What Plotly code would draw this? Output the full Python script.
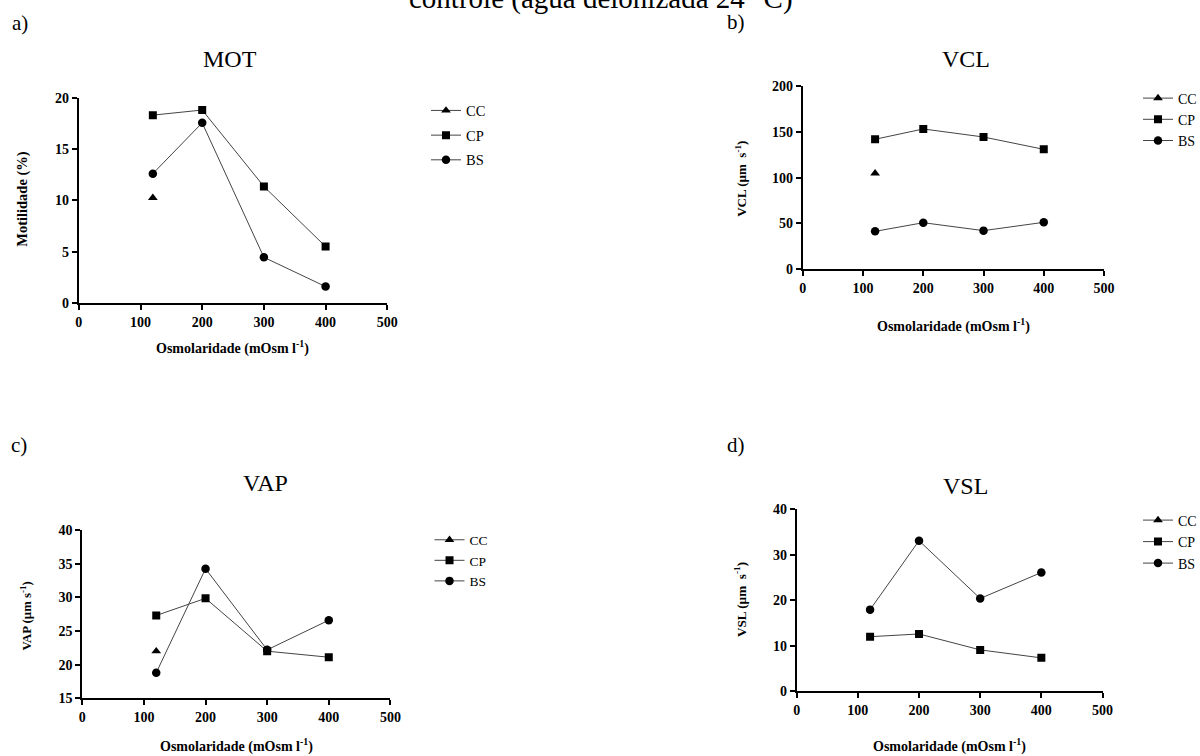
import plotly.graph_objects as go

# ---------------- data ----------------
osm = [120, 200, 300, 400]
cc_x = [120]
series_names = ["CC", "CP", "BS"]

mot_cc = [10.25]
mot_cp = [18.3, 18.8, 11.35, 5.5]
mot_bs = [12.6, 17.55, 4.45, 1.6]

vcl_cc = [104.7]
vcl_cp = [142.0, 153.3, 144.5, 131.0]
vcl_bs = [41.2, 50.7, 42.0, 51.1]

vap_cc = [22.0]
vap_cp = [27.3, 29.85, 22.0, 21.1]
vap_bs = [18.8, 34.25, 22.2, 26.6]

vsl_cc = [None]
vsl_cp = [12.0, 12.6, 9.1, 7.35]
vsl_bs = [17.95, 33.1, 20.4, 26.1]

panel_titles = ["MOT", "VCL", "VAP", "VSL"]
panel_letters = ["a)", "b)", "c)", "d)"]
y_titles = ["Motilidade (%)", "VCL (µm  s<sup>-1</sup>)",
            "VAP (µm s<sup>-1</sup>)", "VSL (µm  s<sup>-1</sup>)"]
x_title = "Osmolaridade (mOsm l<sup>-1</sup>)"
y_ranges = [[0, 20], [0, 200], [15, 40], [0, 40]]
y_dticks = [5, 50, 5, 10]
x_range = [0, 500]
x_dtick = 100
header = "controle (água deionizada 24 °C)"

W, H = 1200, 756
SERIF = "Liberation Serif"

# target positions in picture pixels
boxes = [  # x0, x1, ytop, ybottom
    (78.8, 387.3, 97.7, 303.0),
    (802.8, 1104.0, 86.3, 269.0),
    (82.3, 390.4, 530.0, 698.3),
    (796.7, 1102.5, 509.3, 691.3),
]
title_pos = [(229.6, 59), (965.5, 59), (265.2, 483), (965.5, 486)]
letter_pos = [(20, 23), (736, 22), (19, 445), (736, 445)]
xt_pos = [(232, 348), (953, 325), (236, 745.5), (949, 745.5)]
yt_pos = [(21.8, 199), (740.8, 179), (25.6, 616), (740, 600)]
yt_size = [14.5, 13, 12.8, 13.2]
# legend: marker x, first-row y, row pitch, font size
legend_pos = [(445, 110, 25.0, 14.5), (1157, 98, 21.5, 14),
              (448.5, 540, 20.5, 13.5), (1157, 520, 21.8, 14)]

def px(x):
    return x / W

def py(y):
    return 1 - y / H

data = [
    (mot_cc, mot_cp, mot_bs),
    (vcl_cc, vcl_cp, vcl_bs),
    (vap_cc, vap_cp, vap_bs),
    (vsl_cc, vsl_cp, vsl_bs),
]

symbols = {"CC": "triangle-up", "CP": "square", "BS": "circle"}
msize = {"CC": 8.5, "CP": 8, "BS": 8.5}

fig = go.Figure()
annotations = []

for i in range(4):
    ax_sfx = "" if i == 0 else str(i + 1)
    leg = "legend" if i == 0 else f"legend{i + 1}"
    cc, cp, bs = data[i]
    for name, xs, ys in (("CC", cc_x, cc), ("CP", osm, cp), ("BS", osm, bs)):
        fig.add_trace(go.Scatter(
            x=xs, y=ys, name=name, mode="lines+markers",
            xaxis="x" + ax_sfx, yaxis="y" + ax_sfx,
            legend=leg, legendgroup=f"{i}{name}",
            line=dict(color="#444444", width=1),
            marker=dict(symbol=symbols[name], size=msize[name], color="black"),
            hoverinfo="x+y",
        ))

    x0, x1, yt, yb = boxes[i]
    axis_common = dict(
        showline=True, linecolor="black", linewidth=2,
        ticks="outside", ticklen=5, tickwidth=2, tickcolor="black",
        showgrid=False, zeroline=False,
        tickfont=dict(family=SERIF, size=14, color="black", weight="bold"),
    )
    fig.update_layout(**{
        "xaxis" + ax_sfx: dict(domain=[px(x0), px(x1)], range=x_range, dtick=x_dtick,
                               anchor="y" + ax_sfx, **axis_common),
        "yaxis" + ax_sfx: dict(domain=[py(yb), py(yt)], range=y_ranges[i],
                               dtick=y_dticks[i], anchor="x" + ax_sfx, **axis_common),
    })

    lx, ly, pitch, lsize = legend_pos[i]
    item_h = 1.3 * lsize + 3.3
    fig.update_layout(**{leg: dict(
        x=px(lx - 19), y=py(ly - 15.5), xanchor="left", yanchor="top",
        bgcolor="rgba(0,0,0,0)", borderwidth=0,
        font=dict(family=SERIF, size=lsize, color="black"),
        traceorder="grouped", tracegroupgap=max(pitch - item_h, 0),
        itemclick=False, itemdoubleclick=False,
    )})

    tx, ty = title_pos[i]
    annotations.append(dict(x=px(tx), y=py(ty), xref="paper", yref="paper",
                            text=panel_titles[i], showarrow=False,
                            font=dict(family=SERIF, size=24, color="black"),
                            xanchor="center", yanchor="middle"))
    lx2, ly2 = letter_pos[i]
    annotations.append(dict(x=px(lx2), y=py(ly2), xref="paper", yref="paper",
                            text=panel_letters[i], showarrow=False,
                            font=dict(family=SERIF, size=21, color="black"),
                            xanchor="center", yanchor="middle"))
    ax_, ay_ = xt_pos[i]
    annotations.append(dict(x=px(ax_), y=py(ay_), xref="paper", yref="paper",
                            text=x_title, showarrow=False,
                            font=dict(family=SERIF, size=14, color="black", weight="bold"),
                            xanchor="center", yanchor="middle"))
    bx_, by_ = yt_pos[i]
    annotations.append(dict(x=px(bx_), y=py(by_), xref="paper", yref="paper",
                            text=y_titles[i], showarrow=False, textangle=-90,
                            font=dict(family=SERIF, size=yt_size[i], color="black", weight="bold"),
                            xanchor="center", yanchor="middle"))

annotations.append(dict(x=px(600.5), y=py(-1), xref="paper", yref="paper",
                        text=header, showarrow=False,
                        font=dict(family=SERIF, size=29, color="black"),
                        xanchor="center", yanchor="middle"))

fig.update_layout(
    width=W, height=H,
    margin=dict(l=0, r=0, t=0, b=0, autoexpand=False),
    paper_bgcolor="white", plot_bgcolor="white",
    annotations=annotations,
    showlegend=True,
)

fig.write_html(
    "out.html",
    config={"displayModeBar": False},
    post_script="document.body.style.margin='0';document.body.style.overflow='hidden';",
)
